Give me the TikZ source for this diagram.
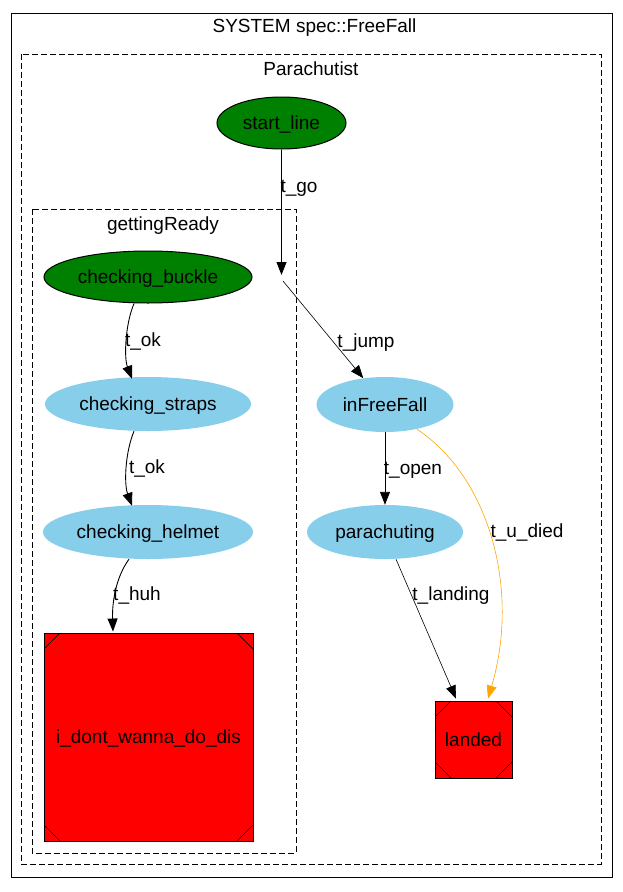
\documentclass[tikz,border=0pt]{standalone}
\usepackage{fontspec}
\setmainfont{Liberation Sans}
\usetikzlibrary{shapes.geometric,arrows.meta}
\definecolor{dkgreen}{RGB}{0,128,0}
\definecolor{sky}{RGB}{135,206,235}
\definecolor{orng}{RGB}{255,165,0}
\begin{document}
\begin{tikzpicture}[x=1pt,y=-1pt,
  font=\fontsize{19}{21}\selectfont,
  every node/.style={inner sep=0pt, text height=13.6pt, text depth=0pt},
  st/.style={ellipse, minimum height=52pt},
  initst/.style={st, fill=dkgreen, draw=black, line width=1pt},
  normst/.style={st, fill=sky},
  msq/.style={rectangle, draw=black, fill=red, line width=0.9pt,
    path picture={
      \foreach \a/\b/\c in {north west/1/-1, north east/-1/-1, south west/1/1, south east/-1/1}
        \draw[line width=0.6pt] ([xshift=\b*16pt]path picture bounding box.\a) -- ([yshift=\c*16pt]path picture bounding box.\a);
    }},
  edge/.style={draw, line width=0.9pt, -{Triangle[length=13pt,width=10pt]}},
  thinedge/.style={edge, line width=0.6pt},
  cluster/.style={draw, dash pattern=on 6pt off 3pt, line width=0.9pt}]

\path[use as bounding box] (0,0) rectangle (623,892);

% clusters
\draw[line width=1pt] (11,13) rectangle (612,877);
\draw[cluster] (21,54) rectangle (601,864);
\draw[cluster] (32,209) rectangle (296,853);
\node (ttl) at (314.5,26) {SYSTEM spec::FreeFall};
\node (tpar) at (311,69) {Parachutist};
\node (tget) at (163,224) {gettingReady};

% states
\node[initst, minimum width=129pt] (start) at (281.5,123) {start\_line};
\node[initst, minimum width=208pt] (buckle) at (148,277) {checking\_buckle};
\node[normst, minimum width=206pt, minimum height=54pt] (straps) at (148,404) {checking\_straps};
\node[normst, minimum width=210pt, minimum height=54pt] (helmet) at (148,532) {checking\_helmet};
\node[msq, minimum width=209pt, minimum height=208pt] (idont) at (148.5,737) {i\_dont\_wanna\_do\_dis};
\node[normst, minimum width=137pt, minimum height=55pt] (free) at (385,404.5) {inFreeFall};
\node[normst, minimum width=156pt, minimum height=54pt] (para) at (385,532) {parachuting};
\node[msq, minimum width=77pt, minimum height=77pt] (landed) at (473.5,739.5) {landed};

% edges
\coordinate (gtip) at (281.5,275);
\coordinate (jstart) at (283,281);
\draw[edge] (start.south) -- (gtip);
\draw[thinedge] (jstart) -- (free);
\draw[edge] ([xshift=-14pt]buckle.south) .. controls (125,325) and (124,358) .. ([xshift=-16pt,yshift=-2pt]straps.north);
\draw[edge] ([xshift=-14pt]straps.south) .. controls (125,453) and (124,484) .. ([xshift=-16pt,yshift=-1pt]helmet.north);
\draw[edge] ([xshift=-19pt]helmet.south) .. controls (116,577) and (112,602) .. ([xshift=-35.5pt,yshift=1pt]idont.north);
\draw[edge] (free.south) -- (para.north);
\draw[thinedge, draw=orng, orng] ([xshift=32pt,yshift=3pt]free.south) .. controls (490,478) and (520,590) .. ([xshift=14.5pt,yshift=2pt]landed.north);
\draw[thinedge] ([xshift=11pt]para.south) -- ([xshift=-17.5pt,yshift=2pt]landed.north);

% labels
\node (lgo) at (299,185.5) {t\_go};
\node (ljump) at (366,341) {t\_jump};
\node (lok1) at (143,340) {t\_ok};
\node (lok2) at (147,467) {t\_ok};
\node (lhuh) at (137,594) {t\_huh};
\node (lopen) at (413,468) {t\_open};
\node (ldied) at (527,531) {t\_u\_died};
\node (lland) at (451,594) {t\_landing};
\end{tikzpicture}
\end{document}
